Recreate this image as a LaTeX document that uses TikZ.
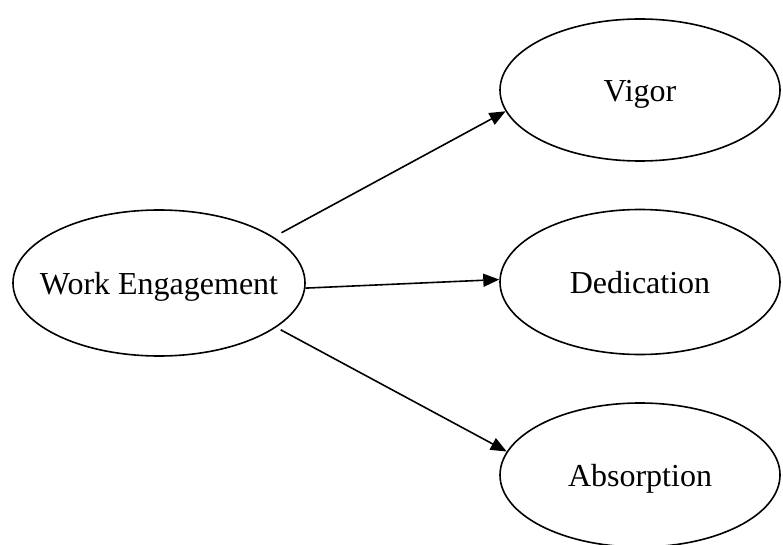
\documentclass[tikz,border=0pt]{standalone}
\usepackage{fontspec}
\setmainfont{Liberation Serif}
\usetikzlibrary{shapes.geometric,arrows.meta}
\begin{document}
\begin{tikzpicture}[x=1pt,y=-1pt,
  oval/.style={draw=black,ellipse,line width=1.6pt,inner ysep=0pt,inner xsep=-45pt,
    text height=30pt,text depth=7pt,
    font=\fontsize{32}{38}\selectfont},
  link/.style={draw=black,line width=1.6pt,-{Triangle[length=16pt,width=13pt]}}]
\useasboundingbox (0,0) rectangle (783,545);
\node[oval,minimum width=292pt,minimum height=146pt] (we) at (159,283) {Work Engagement};
\node[oval,minimum width=280pt,minimum height=142pt] (vig) at (640,90) {Vigor};
\node[oval,minimum width=280pt,minimum height=145pt] (ded) at (640,282) {Dedication};
\node[oval,minimum width=280pt,minimum height=144pt] (abs) at (640,475) {Absorption};
\draw[link] ([shift={(8pt,4pt)}]we.22) -- (vig.189);
\draw[link] (we.-2) -- (ded.179);
\draw[link] ([shift={(5pt,-2pt)}]we.-21) -- (abs.170);
\end{tikzpicture}
\end{document}
